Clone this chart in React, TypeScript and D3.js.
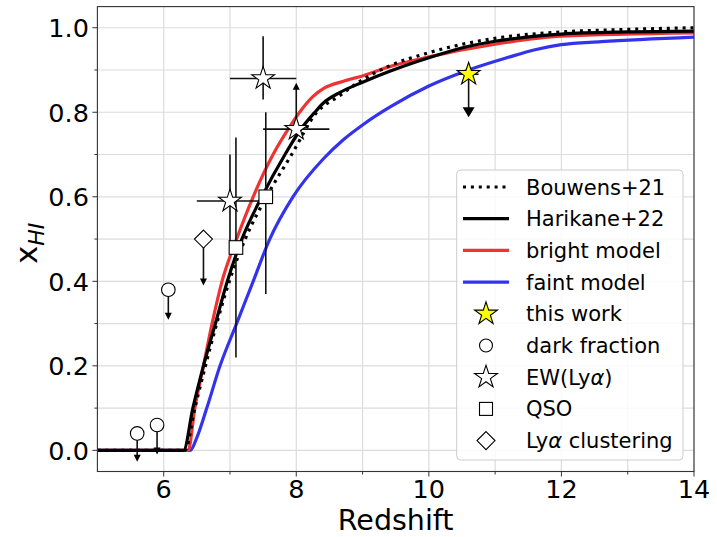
import React from "react";
import * as d3 from "d3";

// ---------- data ----------
const bouwensZ = [5, 6.32, 6.47, 6.63, 6.8, 6.99, 7.23, 7.55, 7.93, 8.3, 8.66, 9.0, 9.41, 10.0, 11, 12, 13, 14];
const bouwensX = [0, 0, 0.1, 0.2, 0.3, 0.4, 0.5, 0.6, 0.7, 0.798, 0.84, 0.877, 0.91, 0.941, 0.975, 0.99, 0.996, 1.0];

const harikaneZ = [5, 6.3, 6.44, 6.6, 6.78, 6.96, 7.18, 7.48, 7.83, 8.06, 8.28, 8.41, 8.66, 9.0, 9.41, 10.0, 10.57, 11, 12, 13, 14];
const harikaneX = [0, 0, 0.1, 0.2, 0.3, 0.4, 0.5, 0.6, 0.7, 0.758, 0.8, 0.822, 0.847, 0.871, 0.897, 0.929, 0.955, 0.968, 0.985, 0.99, 0.992];

const brightZ = [5, 6.37, 6.47, 6.6, 6.73, 6.88, 7.1, 7.35, 7.65, 7.92, 8.05, 8.25, 8.42, 8.7, 9.0, 9.41, 10.0, 11, 12, 14];
const brightX = [0, 0, 0.1, 0.2, 0.3, 0.4, 0.5, 0.6, 0.7, 0.77, 0.8, 0.837, 0.857, 0.873, 0.886, 0.908, 0.931, 0.961, 0.98, 0.988];

const faintZ = [5, 6.4, 6.5, 6.65, 6.85, 7.1, 7.35, 7.6, 7.95, 8.41, 8.71, 9.0, 9.41, 10.0, 10.6, 11.2, 11.6, 12, 12.6, 14];
const faintX = [0, 0, 0.03, 0.1, 0.2, 0.3, 0.4, 0.5, 0.6, 0.69, 0.735, 0.77, 0.812, 0.862, 0.9, 0.93, 0.948, 0.96, 0.967, 0.978];

// this work (upper limit)
const thisWorkZ = [10.6];
const thisWorkX = [0.89];
const thisWorkZLo = [10.45];
const thisWorkZHi = [10.75];
const thisWorkTip = [0.788];

// dark fraction (upper limits)
const darkZ = [5.6, 5.9, 6.07];
const darkX = [0.04, 0.06, 0.38];
const darkTip = [-0.027, -0.01, 0.309];

// EW(Lya)
const ewZ = [7.0, 7.5, 8.0];
const ewX = [0.59, 0.88, 0.76];
const ewZLo = [6.5, 7.0, 7.5];
const ewZHi = [7.5, 8.0, 8.5];
const ewXLo = [0.47, 0.83, 0.76];
const ewXHi = [0.7, 0.98, 0.76];
const ewLowerTip = [null, null, 0.87];

// QSO
const qsoZ = [7.09, 7.54];
const qsoX = [0.48, 0.6];
const qsoXLo = [0.22, 0.37];
const qsoXHi = [0.74, 0.8];

// Lya clustering (upper limit)
const clusZ = [6.6];
const clusX = [0.5];
const clusTip = [0.39];

const xMajor = [6, 8, 10, 12, 14];
const xMinor = [7, 9, 11, 13];
const yMajor = [0, 0.2, 0.4, 0.6, 0.8, 1.0];
const yMinor = [0.1, 0.3, 0.5, 0.7, 0.9];

const legendLabels = ["Bouwens+21", "Harikane+22", "bright model", "faint model", "this work", "dark fraction", "EW(Ly", "QSO", "Ly"];

// ---------- layout ----------
const W = 717, H = 537;
const L = 97.4, R = 694, T = 6.6, B = 471.5;
const FONT = "DejaVu Sans, sans-serif";

function starPath(cx: number, cy: number, r: number) {
  const ri = r * 0.381966;
  const pts: string[] = [];
  for (let i = 0; i < 10; i++) {
    const rad = i % 2 === 0 ? r : ri;
    const a = -Math.PI / 2 + (i * Math.PI) / 5;
    pts.push(`${cx + rad * Math.cos(a)},${cy + rad * Math.sin(a)}`);
  }
  return "M" + pts.join("L") + "Z";
}

function diamondPath(cx: number, cy: number, r: number) {
  return `M${cx},${cy - r}L${cx + r},${cy}L${cx},${cy + r}L${cx - r},${cy}Z`;
}

function arrowHead(cx: number, tipY: number, w: number, h: number, up: boolean) {
  const s = up ? 1 : -1;
  return `M${cx},${tipY}L${cx - w / 2},${tipY + s * h}L${cx + w / 2},${tipY + s * h}Z`;
}

export default function App() {
  const x = d3.scaleLinear().domain([5, 14]).range([L, R]);
  const y = d3.scaleLinear().domain([-0.05, 1.05]).range([B, T]);

  const line = (zs: number[], xs: number[]) =>
    d3
      .line<number>()
      .x((_, i) => x(zs[i]))
      .y((d) => y(d))
      .curve(d3.curveMonotoneX)(xs) || "";

  const gridX = [...xMajor, ...xMinor];
  const gridY = [...yMajor, ...yMinor];

  const lgX0 = 463, lgX1 = 509, lgMid = 486, lgText = 526;
  const lgY0 = 187, lgDY = 31.7;

  return (
    <div style={{ position: "absolute", left: 0, top: 0 }}>
      <svg width={W} height={H} style={{ display: "block", background: "#fff" }} fontFamily={FONT}>
        <defs>
          <clipPath id="plotclip">
            <rect x={L} y={T} width={R - L} height={B - T} />
          </clipPath>
        </defs>
        {/* grid */}
        {gridX.map((v) => (
          <line key={"gx" + v} x1={x(v)} x2={x(v)} y1={T} y2={B} stroke="#dcdcdc" strokeWidth={1.2} />
        ))}
        {gridY.map((v) => (
          <line key={"gy" + v} x1={L} x2={R} y1={y(v)} y2={y(v)} stroke="#dcdcdc" strokeWidth={1.2} />
        ))}

        <g clipPath="url(#plotclip)" fill="none" strokeLinejoin="round">
          <path d={line(faintZ, faintX)} stroke="#3333ee" strokeWidth={3.2} />
          <path d={line(brightZ, brightX)} stroke="#ee3333" strokeWidth={3.2} />
          <path d={line(harikaneZ, harikaneX)} stroke="#000" strokeWidth={3.2} />
          <path d={line(bouwensZ, bouwensX)} stroke="#000" strokeWidth={3.2} strokeDasharray="3,4.9" />
        </g>

        {/* error bars */}
        <g stroke="#111" strokeWidth={1.6} fill="none">
          {ewZ.map((z, i) => (
            <g key={"ewe" + i}>
              <line x1={x(ewZLo[i])} x2={x(ewZHi[i])} y1={y(ewX[i])} y2={y(ewX[i])} />
              {ewXHi[i] !== ewXLo[i] && <line x1={x(z)} x2={x(z)} y1={y(ewXLo[i])} y2={y(ewXHi[i])} />}
              {ewLowerTip[i] !== null && <line x1={x(z)} x2={x(z)} y1={y(ewX[i])} y2={y(ewLowerTip[i] as number) + 6} />}
            </g>
          ))}
          {qsoZ.map((z, i) => (
            <line key={"qe" + i} x1={x(z)} x2={x(z)} y1={y(qsoXLo[i])} y2={y(qsoXHi[i])} />
          ))}
          {darkZ.map((z, i) => (
            <line key={"de" + i} x1={x(z)} x2={x(z)} y1={y(darkX[i])} y2={y(darkTip[i]) - 6} />
          ))}
          {clusZ.map((z, i) => (
            <line key={"ce" + i} x1={x(z)} x2={x(z)} y1={y(clusX[i])} y2={y(clusTip[i]) - 6} />
          ))}
          {thisWorkZ.map((z, i) => (
            <g key={"te" + i}>
              <line x1={x(thisWorkZLo[i])} x2={x(thisWorkZHi[i])} y1={y(thisWorkX[i])} y2={y(thisWorkX[i])} />
              <line x1={x(z)} x2={x(z)} y1={y(thisWorkX[i])} y2={y(thisWorkTip[i]) - 8} />
            </g>
          ))}
        </g>
        {/* arrow heads */}
        <g fill="#000">
          {darkZ.map((z, i) => (
            <path key={"da" + i} d={arrowHead(x(z), y(darkTip[i]), 7, 7, false)} />
          ))}
          {clusZ.map((z, i) => (
            <path key={"ca" + i} d={arrowHead(x(z), y(clusTip[i]), 7, 7, false)} />
          ))}
          {ewZ.map((z, i) =>
            ewLowerTip[i] !== null ? <path key={"ea" + i} d={arrowHead(x(z), y(ewLowerTip[i] as number), 7, 7, true)} /> : null
          )}
          {thisWorkZ.map((z, i) => (
            <path key={"ta" + i} d={arrowHead(x(z), y(thisWorkTip[i]), 12, 10, false)} />
          ))}
        </g>

        {/* markers */}
        <g stroke="#000" strokeWidth={1.1}>
          {darkZ.map((z, i) => (
            <circle key={"dm" + i} cx={x(z)} cy={y(darkX[i])} r={6.8} fill="#fff" />
          ))}
          {clusZ.map((z, i) => (
            <path key={"cm" + i} d={diamondPath(x(z), y(clusX[i]), 9)} fill="#fff" />
          ))}
          {qsoZ.map((z, i) => (
            <rect key={"qm" + i} x={x(z) - 6.8} y={y(qsoX[i]) - 6.8} width={13.6} height={13.6} fill="#fff" />
          ))}
          {ewZ.map((z, i) => (
            <path key={"em" + i} d={starPath(x(z), y(ewX[i]), 12)} fill="#fff" />
          ))}
          {thisWorkZ.map((z, i) => (
            <path key={"tm" + i} d={starPath(x(z), y(thisWorkX[i]), 12)} fill="#ffff00" />
          ))}
        </g>

        {/* frame */}
        <rect x={L} y={T} width={R - L} height={B - T} fill="none" stroke="#333" strokeWidth={1.1} />

        {/* ticks */}
        <g stroke="#333" strokeWidth={1}>
          {xMajor.map((v) => (
            <line key={"xt" + v} x1={x(v)} x2={x(v)} y1={B} y2={B + 5} />
          ))}
          {xMinor.map((v) => (
            <line key={"xm" + v} x1={x(v)} x2={x(v)} y1={B} y2={B + 3} />
          ))}
          {yMajor.map((v) => (
            <line key={"yt" + v} x1={L} x2={L - 5} y1={y(v)} y2={y(v)} />
          ))}
          {yMinor.map((v) => (
            <line key={"ym" + v} x1={L} x2={L - 3} y1={y(v)} y2={y(v)} />
          ))}
        </g>
        <g fontSize={25.5} fill="#000">
          {xMajor.map((v) => (
            <text key={"xl" + v} x={x(v)} y={497.5} textAnchor="middle">
              {d3.format("d")(v)}
            </text>
          ))}
          {yMajor.map((v) => (
            <text key={"yl" + v} x={L - 8.5} y={y(v) + 9.3} textAnchor="end">
              {d3.format(".1f")(v)}
            </text>
          ))}
        </g>
        <text x={(L + R) / 2} y={530} textAnchor="middle" fontSize={28.5}>
          Redshift
        </text>
        <text transform={`translate(37,${(T + B) / 2 + 25}) rotate(-90)`} fontSize={31}>
          x
          <tspan fontSize={22} fontStyle="italic" dy={7}>
            HI
          </tspan>
        </text>

        {/* legend */}
        <rect x={456.7} y={170} width={226.3} height={290} rx={4} fill="#fff" fillOpacity={0.85} stroke="#cccccc" strokeWidth={1} />
        <g fontSize={21}>
          <line x1={lgX0} x2={lgX1} y1={lgY0} y2={lgY0} stroke="#000" strokeWidth={3.2} strokeDasharray="3,4.9" />
          <line x1={lgX0} x2={lgX1} y1={lgY0 + lgDY} y2={lgY0 + lgDY} stroke="#000" strokeWidth={3.2} />
          <line x1={lgX0} x2={lgX1} y1={lgY0 + 2 * lgDY} y2={lgY0 + 2 * lgDY} stroke="#ee3333" strokeWidth={3.2} />
          <line x1={lgX0} x2={lgX1} y1={lgY0 + 3 * lgDY} y2={lgY0 + 3 * lgDY} stroke="#3333ee" strokeWidth={3.2} />
          <path d={starPath(lgMid, lgY0 + 4 * lgDY, 12)} fill="#ffff00" stroke="#000" strokeWidth={1.1} />
          <circle cx={lgMid} cy={lgY0 + 5 * lgDY} r={6.5} fill="#fff" stroke="#000" strokeWidth={1.1} />
          <path d={starPath(lgMid, lgY0 + 6 * lgDY, 12)} fill="#fff" stroke="#000" strokeWidth={1.1} />
          <rect x={lgMid - 6.5} y={lgY0 + 7 * lgDY - 6.5} width={13} height={13} fill="#fff" stroke="#000" strokeWidth={1.1} />
          <path d={diamondPath(lgMid, lgY0 + 8 * lgDY, 9)} fill="#fff" stroke="#000" strokeWidth={1.1} />
          {legendLabels.map((t, i) => (
            <text key={"lg" + i} x={lgText} y={lgY0 + i * lgDY + 7.5} fill="#000">
              {t}
              {i === 6 && (
                <>
                  <tspan fontStyle="italic">α</tspan>)
                </>
              )}
              {i === 8 && (
                <>
                  <tspan fontStyle="italic">α</tspan> clustering
                </>
              )}
            </text>
          ))}
        </g>
      </svg>
    </div>
  );
}
